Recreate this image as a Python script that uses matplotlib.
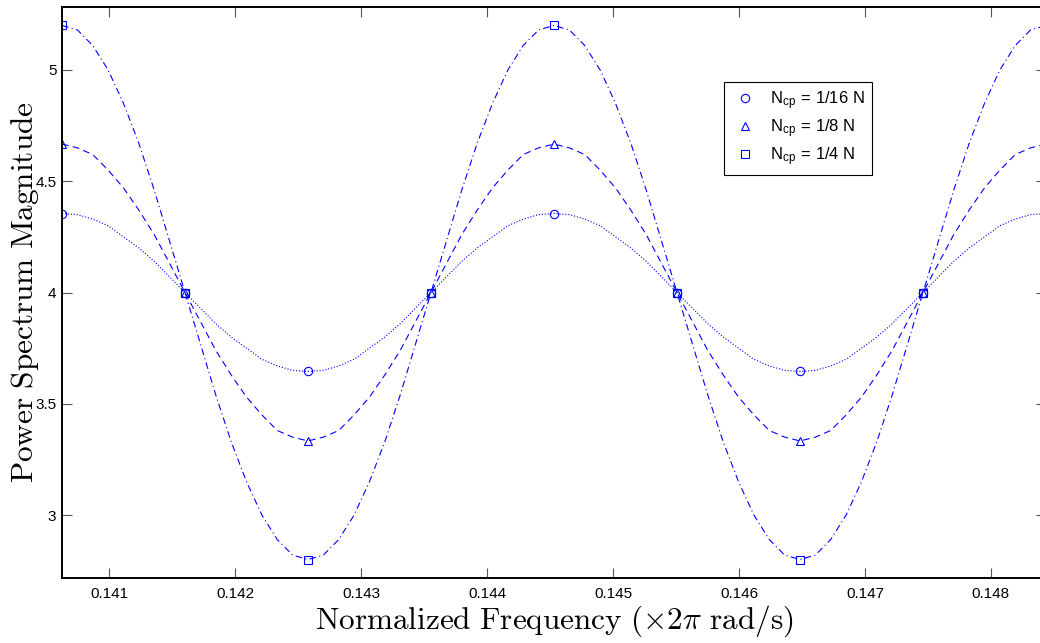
import numpy as np
import matplotlib
matplotlib.use("Agg")
import matplotlib.pyplot as plt
from matplotlib.lines import Line2D

plt.rcParams["mathtext.fontset"] = "cm"
plt.rcParams["font.family"] = ["Liberation Sans", "DejaVu Sans"]

# frequency bins k/1024 with markers, curves sampled every 1/8 bin from 144 to 152
bins = [144, 145, 146, 147, 148, 149, 150, 151]
curve_k = np.arange(144, 152.001, 0.125)

# values
curve_16 = [4.355, 4.35, 4.33, 4.30, 4.25, 4.20, 4.14, 4.07, 4.00, 3.93, 3.86, 3.80, 3.75, 3.70, 3.67, 3.65, 3.645,
            3.65, 3.67, 3.70, 3.75, 3.80, 3.86, 3.93, 4.00, 4.07, 4.14, 4.20, 4.25, 4.30, 4.33, 4.35, 4.355,
            4.35, 4.33, 4.30, 4.25, 4.20, 4.14, 4.07, 4.00, 3.93, 3.86, 3.80, 3.75, 3.70, 3.67, 3.65, 3.645,
            3.65, 3.67, 3.70, 3.75, 3.80, 3.86, 3.93, 4.00, 4.07, 4.14, 4.20, 4.25, 4.30, 4.33, 4.35, 4.355]
curve_8 = [4.667, 4.65, 4.62, 4.55, 4.47, 4.37, 4.26, 4.13, 4.00, 3.87, 3.74, 3.63, 3.53, 3.45, 3.38, 3.35, 3.333,
           3.35, 3.38, 3.45, 3.53, 3.63, 3.74, 3.87, 4.00, 4.13, 4.26, 4.37, 4.47, 4.55, 4.62, 4.65, 4.667,
           4.65, 4.62, 4.55, 4.47, 4.37, 4.26, 4.13, 4.00, 3.87, 3.74, 3.63, 3.53, 3.45, 3.38, 3.35, 3.333,
           3.35, 3.38, 3.45, 3.53, 3.63, 3.74, 3.87, 4.00, 4.13, 4.26, 4.37, 4.47, 4.55, 4.62, 4.65, 4.667]
curve_4 = [5.20, 5.18, 5.11, 5.00, 4.85, 4.67, 4.46, 4.23, 4.00, 3.77, 3.54, 3.33, 3.15, 3.00, 2.89, 2.82, 2.80,
           2.82, 2.89, 3.00, 3.15, 3.33, 3.54, 3.77, 4.00, 4.23, 4.46, 4.67, 4.85, 5.00, 5.11, 5.18, 5.20,
           5.18, 5.11, 5.00, 4.85, 4.67, 4.46, 4.23, 4.00, 3.77, 3.54, 3.33, 3.15, 3.00, 2.89, 2.82, 2.80,
           2.82, 2.89, 3.00, 3.15, 3.33, 3.54, 3.77, 4.00, 4.23, 4.46, 4.67, 4.85, 5.00, 5.11, 5.18, 5.20]

marks_16 = [4.355, 4.00, 3.645, 4.00, 4.355, 4.00, 3.645, 4.00]
marks_8 = [4.667, 4.00, 3.333, 4.00, 4.667, 4.00, 3.333, 4.00]
marks_4 = [5.20, 4.00, 2.80, 4.00, 5.20, 4.00, 2.80, 4.00]

labels = [r"N$_{\mathregular{cp}}$ = 1/16 N",
          r"N$_{\mathregular{cp}}$ = 1/8 N",
          r"N$_{\mathregular{cp}}$ = 1/4 N"]
xticks = [0.141, 0.142, 0.143, 0.144, 0.145, 0.146, 0.147, 0.148]
yticks = [3, 3.5, 4, 4.5, 5]

N = 1024
fc = curve_k / N
fm = np.array(bins) / N

fig = plt.figure(figsize=(10.4, 6.43), dpi=100)
ax = fig.add_axes([62 / 1040, 1 - 578 / 643, 984 / 1040, 571 / 643])

blue = (0, 0, 1)
ax.plot(fc, curve_16, ":", color=blue, lw=0.8)
ax.plot(fc, curve_8, "--", color=blue, lw=0.8, dashes=(6, 4))
ax.plot(fc, curve_4, "-.", color=blue, lw=0.8, dashes=(6, 3, 1, 3))
mk = dict(ls="none", mfc="none", mec=blue, ms=6, mew=0.8)
ax.plot(fm, marks_16, marker="o", **mk)
ax.plot(fm, marks_8, marker="^", **mk)
ax.plot(fm, marks_4, marker="s", **mk)

ax.set_xlim(144 / N, 152 / N)
ax.set_ylim(2.717, 5.283)
ax.set_xticks(xticks)
ax.set_xticklabels([f"{t:.3f}" for t in xticks])
ax.set_yticks(yticks)
ax.set_yticklabels(["3", "3.5", "4", "4.5", "5"])
ax.tick_params(direction="in", length=7, width=0.8, color="#555555",
               labelsize=11, top=True, right=True)
ax.tick_params(axis="x", pad=6.5)
ax.tick_params(axis="y", pad=4)
for s in ax.spines.values():
    s.set_linewidth(1.4)

ax.set_xlabel(r"$\mathrm{Normalized\ Frequency\ (\times 2\pi\ rad/s)}$",
              fontsize=22.5, labelpad=2)
ax.set_ylabel(r"$\mathrm{Power\ Spectrum\ Magnitude}$", fontsize=22.5)
ax.yaxis.set_label_coords(-0.021, 0.5)

handles = [Line2D([], [], marker=m, **mk) for m in ["o", "^", "s"]]
leg = ax.legend(handles, labels, loc="upper left",
                bbox_to_anchor=(0.673, 0.869), fontsize=12,
                fancybox=False, framealpha=1, edgecolor="black",
                handlelength=1.6, handletextpad=0.7, borderpad=0.45,
                labelspacing=0.3, borderaxespad=0)
leg.get_frame().set_linewidth(0.8)

fig.savefig("out.png", dpi=100)
